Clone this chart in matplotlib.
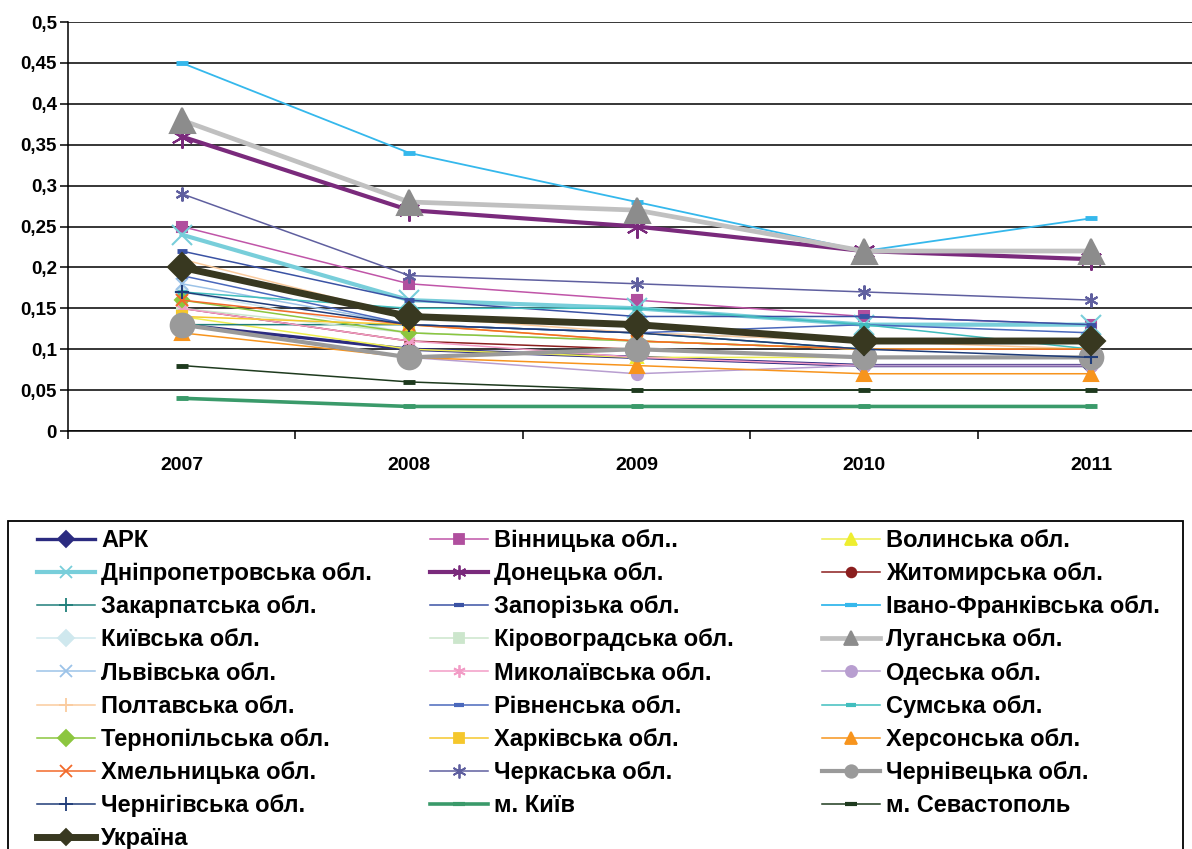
"""Ukrainian regions: indicator dynamics 2007-2011 (Excel-style line chart)."""
import matplotlib
matplotlib.use("Agg")
import matplotlib.pyplot as plt
from matplotlib.lines import Line2D
from matplotlib.patches import Rectangle

plt.rcParams["font.family"] = ["Liberation Sans", "DejaVu Sans"]
plt.rcParams["font.weight"] = "bold"

years = ["2007", "2008", "2009", "2010", "2011"]
y_ticks = [0, 0.05, 0.1, 0.15, 0.2, 0.25, 0.3, 0.35, 0.4, 0.45, 0.5]
y_tick_labels = ["0", "0,05", "0,1", "0,15", "0,2", "0,25", "0,3", "0,35", "0,4", "0,45", "0,5"]

names = [
    "АРК", "Вінницька обл..", "Волинська обл.",
    "Дніпропетровська обл.", "Донецька обл.", "Житомирська обл.",
    "Закарпатська обл.", "Запорізька обл.", "Івано-Франківська обл.",
    "Київська обл.", "Кіровоградська обл.", "Луганська обл.",
    "Львівська обл.", "Миколаївська обл.", "Одеська обл.",
    "Полтавська обл.", "Рівненська обл.", "Сумська обл.",
    "Тернопільська обл.", "Харківська обл.", "Херсонська обл.",
    "Хмельницька обл.", "Черкаська обл.", "Чернівецька обл.",
    "Чернігівська обл.", "м. Київ", "м. Севастополь",
    "Україна",
]

ark = [0.13, 0.10, 0.09, 0.08, 0.08]
vinnytsia = [0.25, 0.18, 0.16, 0.14, 0.13]
volyn = [0.14, 0.10, 0.09, 0.09, 0.09]
dnipro = [0.24, 0.16, 0.15, 0.13, 0.13]
donetsk = [0.36, 0.27, 0.25, 0.22, 0.21]
zhytomyr = [0.15, 0.11, 0.10, 0.09, 0.09]
zakarpattia = [0.13, 0.13, 0.12, 0.10, 0.10]
zaporizhzhia = [0.22, 0.16, 0.14, 0.14, 0.13]
ivano_frankivsk = [0.45, 0.34, 0.28, 0.22, 0.26]
kyiv_obl = [0.17, 0.12, 0.11, 0.10, 0.10]
kirovohrad = [0.15, 0.12, 0.11, 0.10, 0.10]
luhansk = [0.38, 0.28, 0.27, 0.22, 0.22]
lviv = [0.18, 0.13, 0.12, 0.11, 0.11]
mykolaiv = [0.15, 0.11, 0.09, 0.08, 0.08]
odesa = [0.13, 0.09, 0.07, 0.08, 0.08]
poltava = [0.21, 0.14, 0.12, 0.11, 0.10]
rivne = [0.19, 0.13, 0.12, 0.13, 0.12]
sumy = [0.17, 0.15, 0.15, 0.13, 0.10]
ternopil = [0.16, 0.12, 0.11, 0.10, 0.10]
kharkiv = [0.14, 0.13, 0.11, 0.10, 0.10]
kherson = [0.12, 0.09, 0.08, 0.07, 0.07]
khmelnytskyi = [0.16, 0.13, 0.11, 0.10, 0.10]
cherkasy = [0.29, 0.19, 0.18, 0.17, 0.16]
chernivtsi = [0.13, 0.09, 0.10, 0.09, 0.09]
chernihiv = [0.17, 0.13, 0.12, 0.10, 0.09]
kyiv_city = [0.04, 0.03, 0.03, 0.03, 0.03]
sevastopol = [0.08, 0.06, 0.05, 0.05, 0.05]
ukraine = [0.20, 0.14, 0.13, 0.11, 0.11]

series = [
    ark, vinnytsia, volyn, dnipro, donetsk, zhytomyr, zakarpattia, zaporizhzhia,
    ivano_frankivsk, kyiv_obl, kirovohrad, luhansk, lviv, mykolaiv, odesa, poltava,
    rivne, sumy, ternopil, kharkiv, kherson, khmelnytskyi, cherkasy, chernivtsi,
    chernihiv, kyiv_city, sevastopol, ukraine,
]

ASTER = (6, 2, 0)
# (line colour, marker colour, marker, line width, marker size, legend marker size)
styles = [
    ("#2B2B80", "#2B2B80", "D", 2.4, 8, 8),
    ("#C055A8", "#B04F9E", "s", 1.1, 7, 7),
    ("#EEEE50", "#EEEE30", "^", 1.1, 8, 8),
    ("#78CEDA", "#78CEDA", "x", 3.0, 14, 9),
    ("#7A2A7C", "#7A2A7C", ASTER, 3.0, 16, 10),
    ("#8B1E1E", "#8B1E1E", "o", 1.1, 6, 7),
    ("#1F7F7A", "#1F7F7A", "+", 1.1, 9, 10),
    ("#3A52A4", "#3A52A4", "_", 1.1, 7, 7),
    ("#35B8EC", "#35B8EC", "_", 1.3, 8, 8),
    ("#CFE8EE", "#CFE8EE", "D", 1.1, 7, 8),
    ("#CCE6CC", "#CCE6CC", "s", 1.1, 7, 7),
    ("#C0C0C0", "#8C8C8C", "^", 3.4, 18, 10),
    ("#9CC3E8", "#9CC3E8", "x", 1.1, 9, 9),
    ("#F29CC6", "#F29CC6", ASTER, 1.1, 9, 9),
    ("#B89ED0", "#B89ED0", "o", 1.1, 8, 8),
    ("#FACB9E", "#FACB9E", "+", 1.1, 9, 10),
    ("#4A68BC", "#4A68BC", "_", 1.1, 7, 7),
    ("#40BEBE", "#40BEBE", "_", 1.1, 7, 7),
    ("#8CC63F", "#8CC63F", "D", 1.1, 7, 8),
    ("#F5C72C", "#F5C72C", "s", 1.1, 7, 7),
    ("#F7941D", "#F7941D", "^", 1.1, 10, 9),
    ("#F26A2A", "#F26A2A", "x", 1.1, 9, 9),
    ("#5F5F9F", "#5F5F9F", ASTER, 1.1, 10, 10),
    ("#9A9A9A", "#9A9A9A", "o", 3.0, 17, 9),
    ("#1F3C78", "#1F3C78", "+", 1.1, 10, 10),
    ("#3A9A6A", "#3A9A6A", "_", 2.6, 8, 8),
    ("#1E3A1E", "#1E3A1E", "_", 1.1, 8, 8),
    ("#383820", "#383820", "D", 5.0, 14, 8),
]

W, H = 1192, 849
fig = plt.figure(figsize=(W / 100, H / 100), dpi=100)
ax = fig.add_axes([68 / W, 1 - 431 / H, (1205 - 68) / W, (431 - 22) / H])

x = list(range(len(years)))
for vals, (lc, mc, mk, lw, ms, _) in zip(series, styles):
    mew = 3.5 if mk == "_" else 1.5
    ax.plot(x, vals, color=lc, lw=lw, marker=mk, ms=ms,
            markerfacecolor=mc, markeredgecolor=mc, mew=mew, clip_on=False)

ax.set_xlim(-0.5, len(years) - 0.5)
ax.set_ylim(0, 0.5)
ax.set_yticks(y_ticks)
ax.set_yticklabels(y_tick_labels, fontsize=13.5, fontweight="bold")
ax.set_xticks(x)
ax.set_xticklabels(years, fontsize=14, fontweight="bold")
ax.set_xticks([i - 0.5 for i in range(len(years) + 1)], minor=True)
ax.tick_params(axis="x", which="major", length=0, pad=19)
ax.tick_params(axis="x", which="minor", length=6, width=1.1, direction="out")
ax.tick_params(axis="y", length=6, width=1.1, direction="out", pad=2)
ax.grid(axis="y", color="black", lw=1.1)
ax.set_axisbelow(True)
for side in ("top", "right"):
    ax.spines[side].set_visible(False)
for side in ("left", "bottom"):
    ax.spines[side].set_linewidth(1.1)

# legend frame (runs past the bottom of the image, as in the original)
fig.patches.append(Rectangle((8 / W, -0.05), (1183 - 8) / W, 1 - 521 / H + 0.05,
                             transform=fig.transFigure, fill=False,
                             edgecolor="black", lw=1.3))

handles = []
for (lc, mc, mk, lw, _, lms) in styles:
    mew = 3.0 if mk == "_" else 1.3
    handles.append(Line2D([], [], color=lc, lw=lw, marker=mk, ms=lms,
                          markerfacecolor=mc, markeredgecolor=mc, mew=mew))

col_x = [37, 430, 822]
for c in range(3):
    idx = list(range(c, len(names), 3))
    fig.legend([handles[i] for i in idx], [names[i] for i in idx],
               loc="upper left", bbox_to_anchor=(col_x[c] / W, 1 - 529 / H),
               frameon=False, borderpad=0, borderaxespad=0,
               handlelength=2.46, handletextpad=0.25, labelspacing=0.43,
               prop={"size": 17, "weight": "bold"})

fig.savefig("out.png", dpi=100)
